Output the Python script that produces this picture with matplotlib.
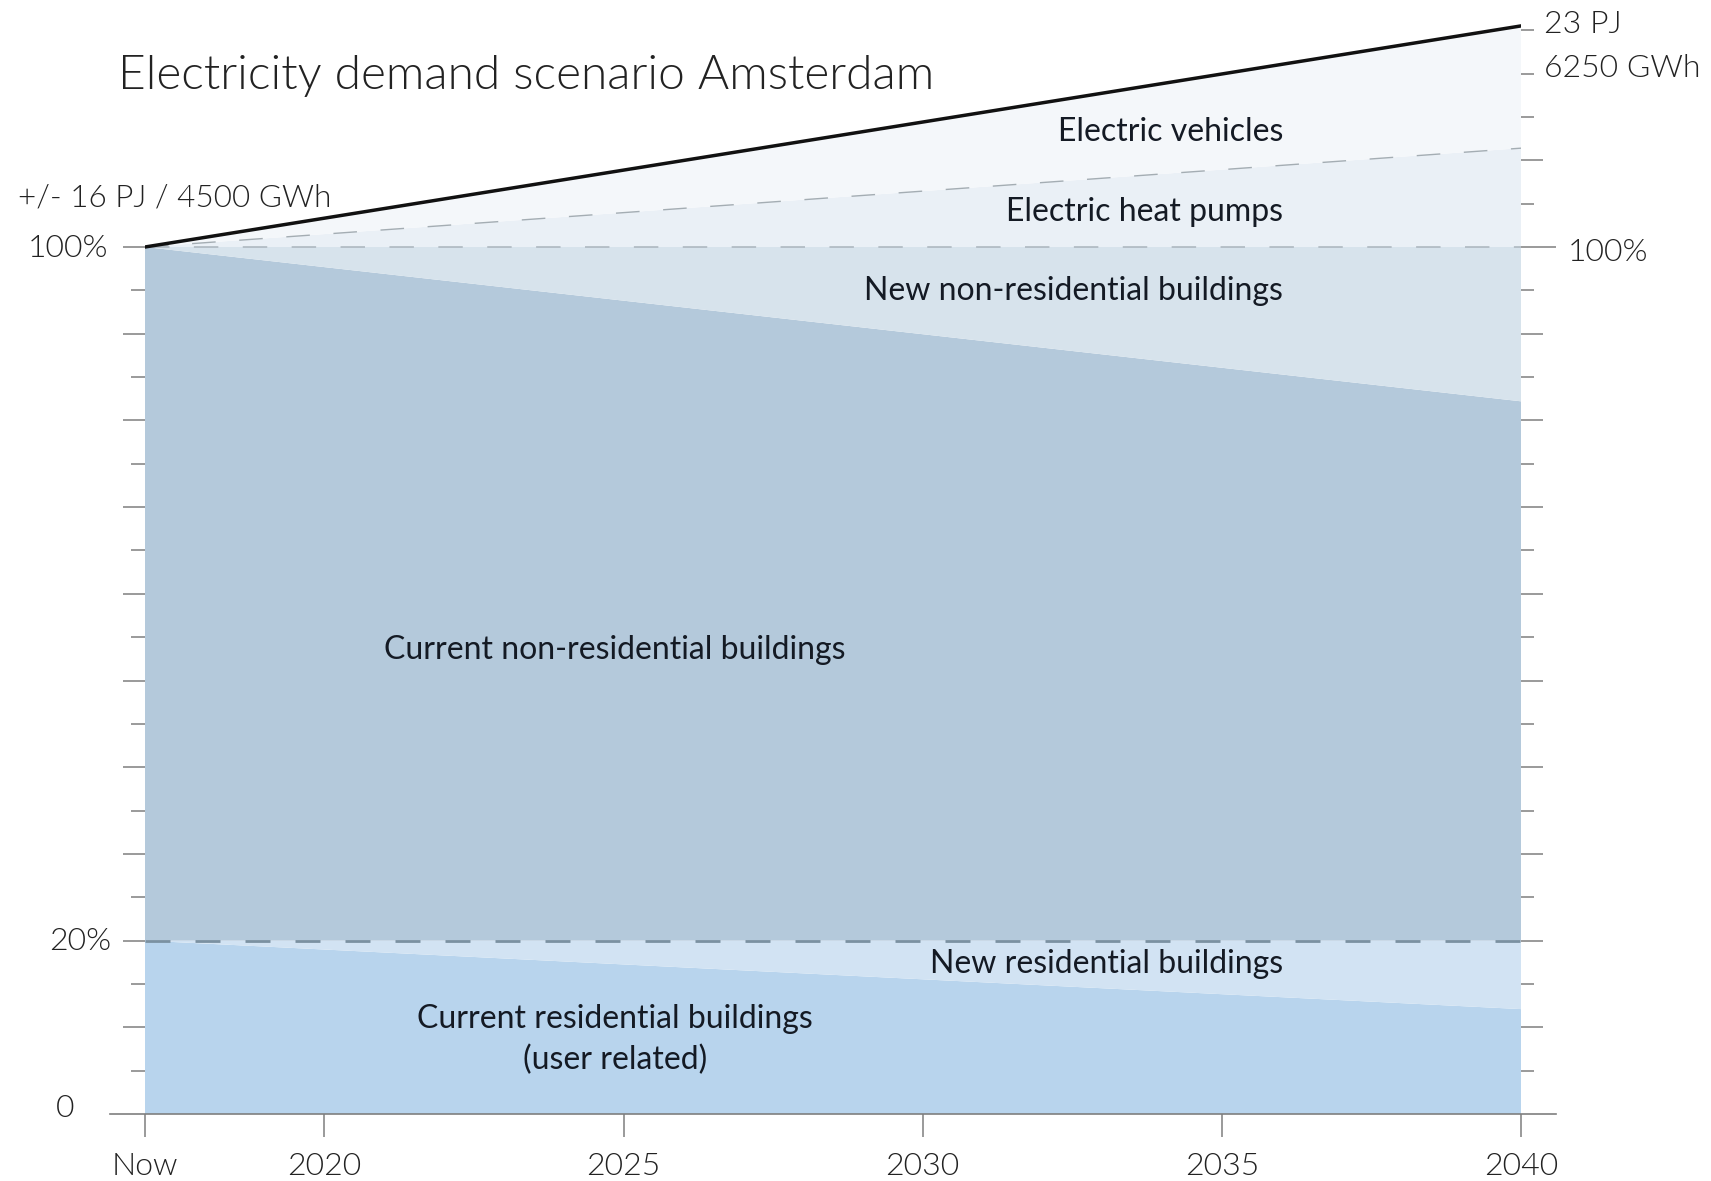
import matplotlib
matplotlib.use("Agg")
import matplotlib.pyplot as plt
import numpy as np
from matplotlib.ticker import FixedLocator

plt.rcParams['font.family'] = ['Lato', 'DejaVu Sans']

# ---------------- data (percent of current demand) ----------------
years = [2017, 2040]
year_ticks = [2017, 2020, 2025, 2030, 2035, 2040]
year_labels = ["Now", "2020", "2025", "2030", "2035", "2040"]

current_residential = [20.0, 12.1]
new_residential = [0.0, 7.9]
current_non_residential = [80.0, 62.2]
new_non_residential = [0.0, 17.8]
electric_heat_pumps = [0.0, 11.4]
electric_vehicles = [0.0, 14.1]

band_colors = ["#b8d4ed", "#d2e3f3", "#b4c9db", "#d7e3ec", "#eaf0f6", "#f4f7fa"]

W, H = 1711, 1181
PX_PER_PCT = 8.67
YMAX = 128
LIGHT = 300

fig = plt.figure(figsize=(W / 100, H / 100), dpi=100)
ax = fig.add_axes([145 / W, 1 - 1114 / H, (1521 - 145) / W, YMAX * PX_PER_PCT / H])
ax.set_xlim(years[0], years[-1])
ax.set_ylim(0, YMAX)

series = [current_residential, new_residential, current_non_residential,
          new_non_residential, electric_heat_pumps, electric_vehicles]
ax.stackplot(years, *series, colors=band_colors, linewidth=0, antialiased=True)

cum = np.cumsum(np.array(series), axis=0)
# residential / non-residential boundary (20%)
ax.plot(years, cum[1], color="#7b91a1", lw=2.0, dashes=(9, 9))
# 100% line
ax.plot(years, cum[3], color="#aab4bc", lw=1.1, dashes=(16, 16))
# heat pump / EV boundary
ax.plot(years, cum[4], color="#a4adb3", lw=1.0, dashes=(17, 17))
# total demand
ax.plot(years, cum[5], color="#111111", lw=2.5, solid_capstyle="round", zorder=5)

for s in ax.spines.values():
    s.set_visible(False)

tick_col = "#7f7f7f"
txt_col = "#222222"
# bottom axis line extending past both ends
ext = 35 / (1521 - 145)
ax.axhline(0, xmin=-ext, xmax=1 + ext, color=tick_col, lw=1.2, clip_on=False, zorder=6)

ax.set_xticks(year_ticks, year_labels)
ax.tick_params(axis="x", length=16.5, width=1.1, color=tick_col, pad=11,
               labelsize=23, labelcolor=txt_col)
for lbl in ax.get_xticklabels():
    lbl.set_fontweight(LIGHT)

ax.yaxis.set_major_locator(FixedLocator(list(range(10, 101, 10))))
ax.yaxis.set_minor_locator(FixedLocator(list(range(5, 100, 10))))
ax.tick_params(axis="y", which="major", length=15.8, width=1.1, color=tick_col, labelleft=False)
ax.tick_params(axis="y", which="minor", length=10, width=1.1, color=tick_col)

ax2 = ax.twinx()
ax2.set_ylim(0, YMAX)
for s in ax2.spines.values():
    s.set_visible(False)
right_major = list(range(10, 121, 10))
ax2.yaxis.set_major_locator(FixedLocator(right_major))
ax2.yaxis.set_minor_locator(FixedLocator(list(range(5, 126, 10))))
ax2.tick_params(axis="y", which="major", length=15.8, width=1.1, color=tick_col, labelright=False)
ax2.tick_params(axis="y", which="minor", length=9.5, width=1.1, color=tick_col)
mt = ax2.yaxis.get_major_ticks()
for val, tk in zip(right_major, mt):
    if val == 100:
        tk.tick2line.set_markersize(25)
    if val == 120:
        tk.tick2line.set_markersize(9.5)


def ftext(x, y, s, size, ha="left", weight="normal", color=txt_col):
    fig.text(x / W, 1 - y / H, s, fontsize=size, ha=ha, va="baseline",
             fontweight=weight, color=color)


ftext(118, 89, "Electricity demand scenario Amsterdam", 34.5, weight=LIGHT)
ftext(18, 207, "+/- 16 PJ / 4500 GWh", 22.7, weight=LIGHT)
ftext(108, 257, "100%", 23, ha="right", weight=LIGHT)
ftext(111, 950, "20%", 23, ha="right", weight=LIGHT)
ftext(74, 1117, "0", 23, ha="right", weight=LIGHT)
ftext(1568, 261, "100%", 23, weight=LIGHT)
ftext(1544, 33, "23 PJ", 23, weight=LIGHT)
ftext(1544, 77, "6250 GWh", 23, weight=LIGHT)

lab_col = "#141a24"
LS = 23
ftext(1283, 141, "Electric vehicles", LS, ha="right", color=lab_col)
ftext(1283, 221, "Electric heat pumps", LS, ha="right", color=lab_col)
ftext(1283, 300, "New non-residential buildings", LS, ha="right", color=lab_col)
ftext(615, 659, "Current non-residential buildings", LS, ha="center", color=lab_col)
ftext(1283, 973, "New residential buildings", LS, ha="right", color=lab_col)
ftext(615, 1028, "Current residential buildings", LS, ha="center", color=lab_col)
ftext(615, 1069, "(user related)", LS, ha="center", color=lab_col)

fig.savefig("out.png", dpi=100, facecolor="white")
